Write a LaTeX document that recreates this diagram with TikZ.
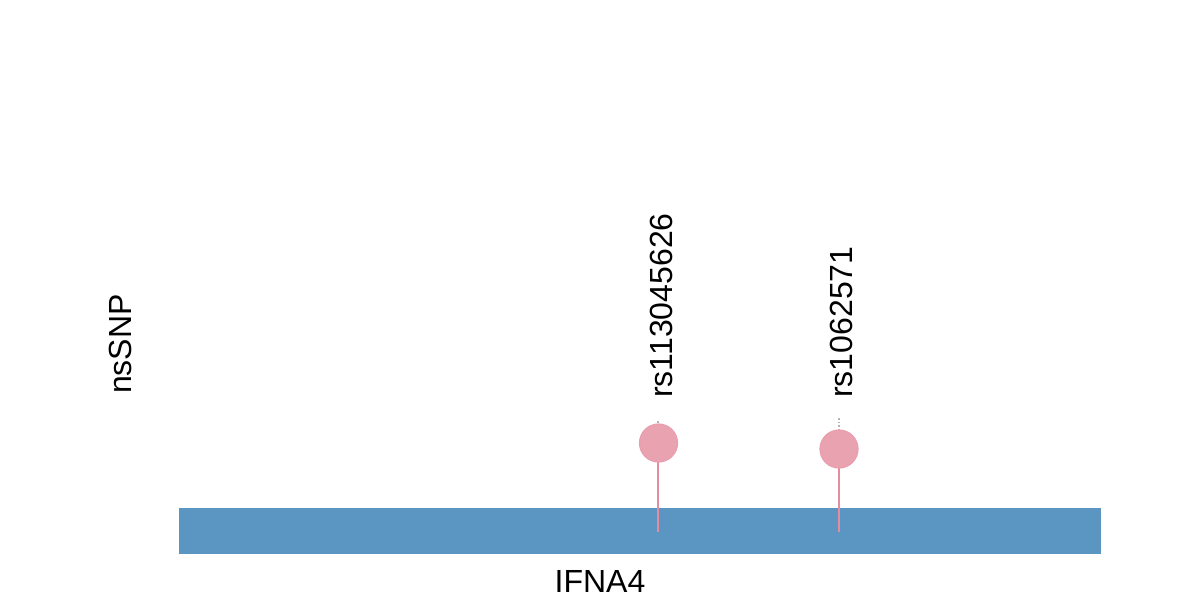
\documentclass[tikz,border=0pt]{standalone}
\usepackage{fontspec}
\setmainfont{Liberation Sans}
\definecolor{genebar}{RGB}{91,150,194}
\definecolor{snpfill}{RGB}{233,162,176}
\definecolor{snpline}{RGB}{230,140,160}
\definecolor{tipgray}{RGB}{180,180,180}
\begin{document}
\begin{tikzpicture}[x=1pt,y=-1pt,
  lbl/.style={inner sep=0pt,font=\fontsize{32}{36}\selectfont},
  snp/.style={circle,fill=snpfill,draw=snpline!85,line width=1.2pt,minimum size=38pt,inner sep=0pt},
  stem/.style={draw=snpline,line width=2pt},
  tip/.style={draw=tipgray,line width=1.5pt,dotted}]
\useasboundingbox (0,0) rectangle (1200,600);
% gene bar
\node[fill=genebar,minimum width=922pt,minimum height=46pt,inner sep=0pt,anchor=north west] (gene) at (179,508) {};
\node[lbl,anchor=north] (genelbl) at (600,570) {IFNA4};
\node[lbl,rotate=90,anchor=center] (ylbl) at (120,344) {nsSNP};
% SNP 1
\coordinate (t1) at (658,421);
\coordinate (b1) at (658,532);
\draw[tip] (t1) -- ++(0,5);
\draw[stem] (658,430) -- (b1);
\node[snp] (s1) at (658.5,443) {};
\node[lbl,rotate=90,anchor=base west] (l1) at (672,398) {rs113045626};
% SNP 2
\coordinate (t2) at (839,418);
\coordinate (b2) at (839,532);
\draw[tip] (t2) -- ++(0,12);
\draw[stem] (839,436) -- (b2);
\node[snp] (s2) at (839,449) {};
\node[lbl,rotate=90,anchor=base west] (l2) at (852,398) {rs1062571};
\end{tikzpicture}
\end{document}
